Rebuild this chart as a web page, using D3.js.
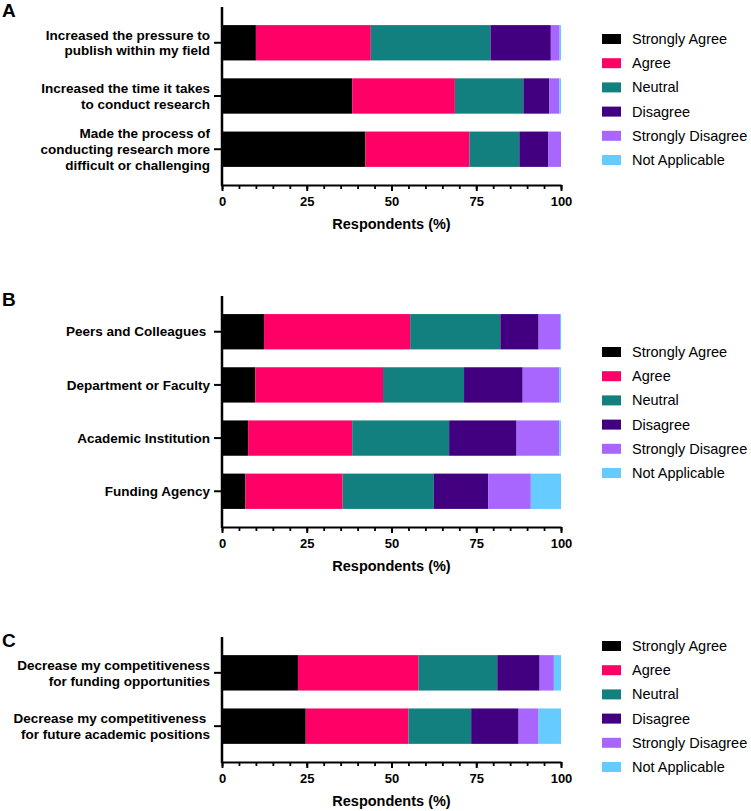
<!DOCTYPE html>
<meta charset="utf-8">
<script src="https://d3js.org/d3.v7.min.js"></script>
<style>
  body { margin: 0; background: #fff; }
  svg { font-family: "Liberation Sans", Arial, sans-serif; }
</style>
<div id="chart"></div>
<script>
// response categories (stack order) and their colours
var responses = ["Strongly Agree", "Agree", "Neutral", "Disagree", "Strongly Disagree", "Not Applicable"];
var colors = ["#000000", "#ff0066", "#138080", "#420080", "#a966fe", "#66ccff"];

var xTicks = [0, 25, 50, 75, 100];

// panel A
var labelsA = [
    "Increased the pressure to\npublish within my field",
    "Increased the time it takes\nto conduct research",
    "Made the process of\nconducting research more\ndifficult or challenging"];
var valuesA = [
    [10.0, 33.9, 35.3, 17.8, 2.6, 0.4],
    [38.4, 30.3, 20.2, 7.7, 2.9, 0.5],
    [42.3, 30.7, 14.7, 8.6, 3.7, 0.0]];

// panel B
var labelsB = ["Peers and Colleagues ", "Department or Faculty", "Academic Institution", "Funding Agency"];
var valuesB = [
    [12.4, 43.1, 26.6, 11.3, 6.3, 0.3],
    [9.8, 37.7, 23.9, 17.3, 10.8, 0.5],
    [7.7, 30.7, 28.6, 19.9, 12.6, 0.5],
    [6.9, 28.7, 26.9, 16.0, 12.6, 8.9]];

// panel C
var labelsC = [
    "Decrease my competitiveness\nfor funding opportunities",
    "Decrease my competitiveness \nfor future academic positions"];
var valuesC = [
    [22.4, 35.6, 23.2, 12.5, 4.2, 2.1],
    [24.7, 30.3, 18.5, 14.0, 5.9, 6.6]];

var svg = d3.select("#chart").append("svg")
    .attr("width", 751)
    .attr("height", 811);

var x = d3.scaleLinear().domain([0, 100]).range([222, 561]);
var color = d3.scaleOrdinal().domain(responses).range(colors);

function drawPanel(letter, labels, values, top, bottom, legendTop) {
    var g = svg.append("g");

    var y = d3.scaleBand()
        .domain(labels)
        .range([top, bottom])
        .paddingInner(0.336)
        .paddingOuter(0.34);

    var rows = labels.map(function(l, i) {
        var o = {label: l};
        responses.forEach(function(r, j) { o[r] = values[i][j]; });
        return o;
    });
    var series = d3.stack().keys(responses)(rows);

    g.append("g").selectAll("g")
        .data(series)
        .enter().append("g")
        .attr("fill", function(d) { return color(d.key); })
        .selectAll("rect")
        .data(function(d) { return d; })
        .enter().append("rect")
        .attr("x", function(d) { return x(d[0]); })
        .attr("width", function(d) { return Math.max(0, x(d[1]) - x(d[0])); })
        .attr("y", function(d) { return y(d.data.label); })
        .attr("height", y.bandwidth());

    // minor x ticks every 5
    var minor = g.append("g")
        .attr("transform", "translate(0," + bottom + ")")
        .call(d3.axisBottom(x).tickValues(d3.range(0, 101, 5)).tickSize(4).tickFormat(""));
    minor.select(".domain").remove();
    minor.selectAll("line").attr("stroke-width", 1.8);

    // x axis
    var xa = g.append("g")
        .attr("transform", "translate(0," + bottom + ")")
        .call(d3.axisBottom(x).tickValues(xTicks).tickSize(6).tickSizeOuter(0).tickPadding(6));
    xa.select(".domain").attr("stroke-width", 2.2);
    xa.selectAll("line").attr("stroke-width", 2);
    xa.selectAll("text")
        .attr("font-size", 13)
        .attr("font-weight", "bold")
        .attr("font-family", "Liberation Sans, Arial, sans-serif")
        .attr("fill", "#000");

    // y axis
    var ya = g.append("g")
        .attr("transform", "translate(222,0)")
        .call(d3.axisLeft(y).tickSize(8).tickSizeOuter(0).tickPadding(4));
    ya.select(".domain").attr("d", "M0," + top + "V" + (bottom + 1)).attr("stroke-width", 2.5);
    ya.selectAll("line").attr("stroke-width", 2);
    ya.selectAll(".tick text")
        .attr("font-size", 13.5)
        .attr("font-weight", "bold")
        .attr("font-family", "Liberation Sans, Arial, sans-serif")
        .attr("fill", "#000")
        .style("white-space", "pre")
        .each(function(d) {
            var t = d3.select(this);
            var lines = d.split("\n");
            t.text(null).attr("dy", null);
            lines.forEach(function(line, i) {
                t.append("tspan")
                    .attr("x", -12)
                    .attr("y", (i - (lines.length - 1) / 2) * 16)
                    .attr("dy", "0.35em")
                    .text(line);
            });
        });

    // x axis title
    g.append("text")
        .attr("x", (x(0) + x(100)) / 2)
        .attr("y", bottom + 44)
        .attr("text-anchor", "middle")
        .attr("font-size", 14.5)
        .attr("font-weight", "bold")
        .text("Respondents (%)");

    // panel letter
    g.append("text")
        .attr("x", 2)
        .attr("y", top + 10)
        .attr("font-size", 19)
        .attr("font-weight", "bold")
        .text(letter);

    // legend
    var leg = g.append("g").selectAll("g")
        .data(responses)
        .enter().append("g")
        .attr("transform", function(d, i) { return "translate(602," + (legendTop + i * 24.2) + ")"; });
    leg.append("rect")
        .attr("y", -5)
        .attr("width", 19)
        .attr("height", 10)
        .attr("fill", function(d) { return color(d); });
    leg.append("text")
        .attr("x", 30)
        .attr("dy", "0.35em")
        .attr("font-size", 14.5)
        .text(function(d) { return d; });
}

drawPanel("A", labelsA, valuesA, 7, 185, 39);
drawPanel("B", labelsB, valuesB, 296, 527, 352);
drawPanel("C", labelsC, valuesC, 637, 762, 646);
</script>
